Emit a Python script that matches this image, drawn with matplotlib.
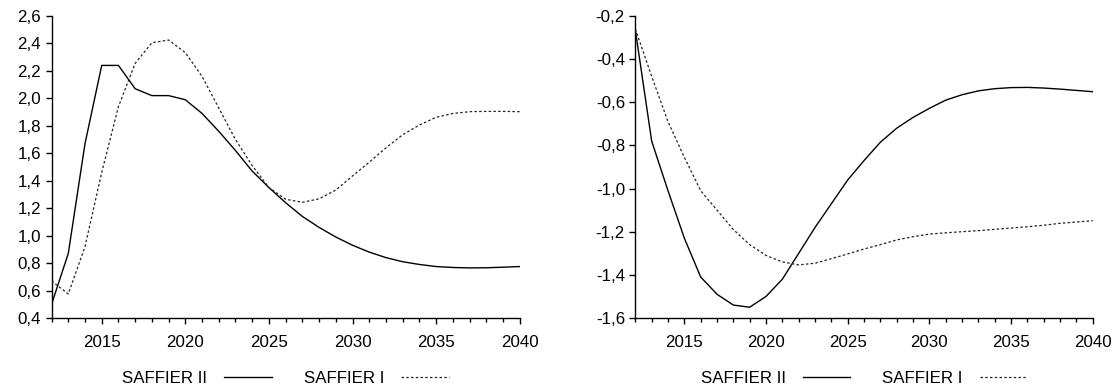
import matplotlib
matplotlib.use("Agg")
import matplotlib.pyplot as plt
from matplotlib.ticker import MultipleLocator, FuncFormatter
import numpy as np

years = np.arange(2012, 2041)

# left panel
left_s2 = [0.50, 0.87, 1.67, 2.24, 2.24, 2.07, 2.02, 2.02, 1.99, 1.89,
           1.76, 1.62, 1.47, 1.35, 1.24, 1.14, 1.06, 0.99, 0.93, 0.88,
           0.84, 0.81, 0.79, 0.775, 0.768, 0.765, 0.766, 0.77, 0.775]
left_s1 = [0.67, 0.575, 0.92, 1.46, 1.94, 2.255, 2.405, 2.425, 2.333, 2.16,
           1.93, 1.70, 1.51, 1.35, 1.265, 1.243, 1.268, 1.332, 1.435, 1.535,
           1.64, 1.735, 1.806, 1.862, 1.89, 1.903, 1.905, 1.905, 1.903]

# right panel
right_s2 = [-0.265, -0.78, -1.01, -1.23, -1.41, -1.49, -1.54, -1.55, -1.50, -1.42,
            -1.30, -1.18, -1.07, -0.96, -0.87, -0.785, -0.72, -0.67, -0.628, -0.59,
            -0.565, -0.547, -0.537, -0.532, -0.531, -0.534, -0.539, -0.545, -0.551]
right_s1 = [-0.26, -0.48, -0.69, -0.855, -1.01, -1.10, -1.19, -1.26, -1.31, -1.34,
            -1.354, -1.346, -1.325, -1.303, -1.28, -1.26, -1.238, -1.223, -1.211, -1.205,
            -1.200, -1.195, -1.189, -1.183, -1.177, -1.170, -1.161, -1.155, -1.149]

plt.rcParams['font.family'] = ['Liberation Sans', 'DejaVu Sans']
plt.rcParams['font.size'] = 12.2

fig = plt.figure(figsize=(11.16, 3.89), dpi=100)
ax1 = fig.add_axes([0.0462, 0.1825, 0.4195, 0.7764])
ax2 = fig.add_axes([0.5693, 0.1825, 0.4099, 0.7764])

comma = FuncFormatter(lambda v, p: f"{v:.1f}".replace('.', ','))


def panel(ax, s2, s1, ylim):
    ax.plot(years, s2, color='black', lw=1.0, label='SAFFIER II')
    ax.plot(years, s1, color='#222222', lw=0.9, ls=(0, (2, 1.8)), label='SAFFIER I')
    ax.set_xlim(2012, 2040)
    ax.set_ylim(*ylim)
    ax.xaxis.set_major_locator(MultipleLocator(5))
    ax.xaxis.set_minor_locator(MultipleLocator(1))
    ax.yaxis.set_major_locator(MultipleLocator(0.2))
    ax.yaxis.set_major_formatter(comma)
    for s in ['top', 'right']:
        ax.spines[s].set_visible(False)
    for s in ['left', 'bottom']:
        ax.spines[s].set_linewidth(1.0)
    ax.tick_params(axis='both', which='major', length=4, width=1.0)
    ax.tick_params(axis='y', which='major', pad=3.5)
    ax.tick_params(axis='x', which='minor', length=3, width=1.0)
    ax.tick_params(axis='x', which='major', pad=8)
    ax.legend(ncol=2, markerfirst=False, frameon=False, loc='center',
              bbox_to_anchor=(0.5, -0.2), handlelength=2.8, handletextpad=1.0,
              columnspacing=1.9)


panel(ax1, left_s2, left_s1, (0.4, 2.6))
panel(ax2, right_s2, right_s1, (-1.6, -0.2))

fig.savefig('out.png', dpi=100)
